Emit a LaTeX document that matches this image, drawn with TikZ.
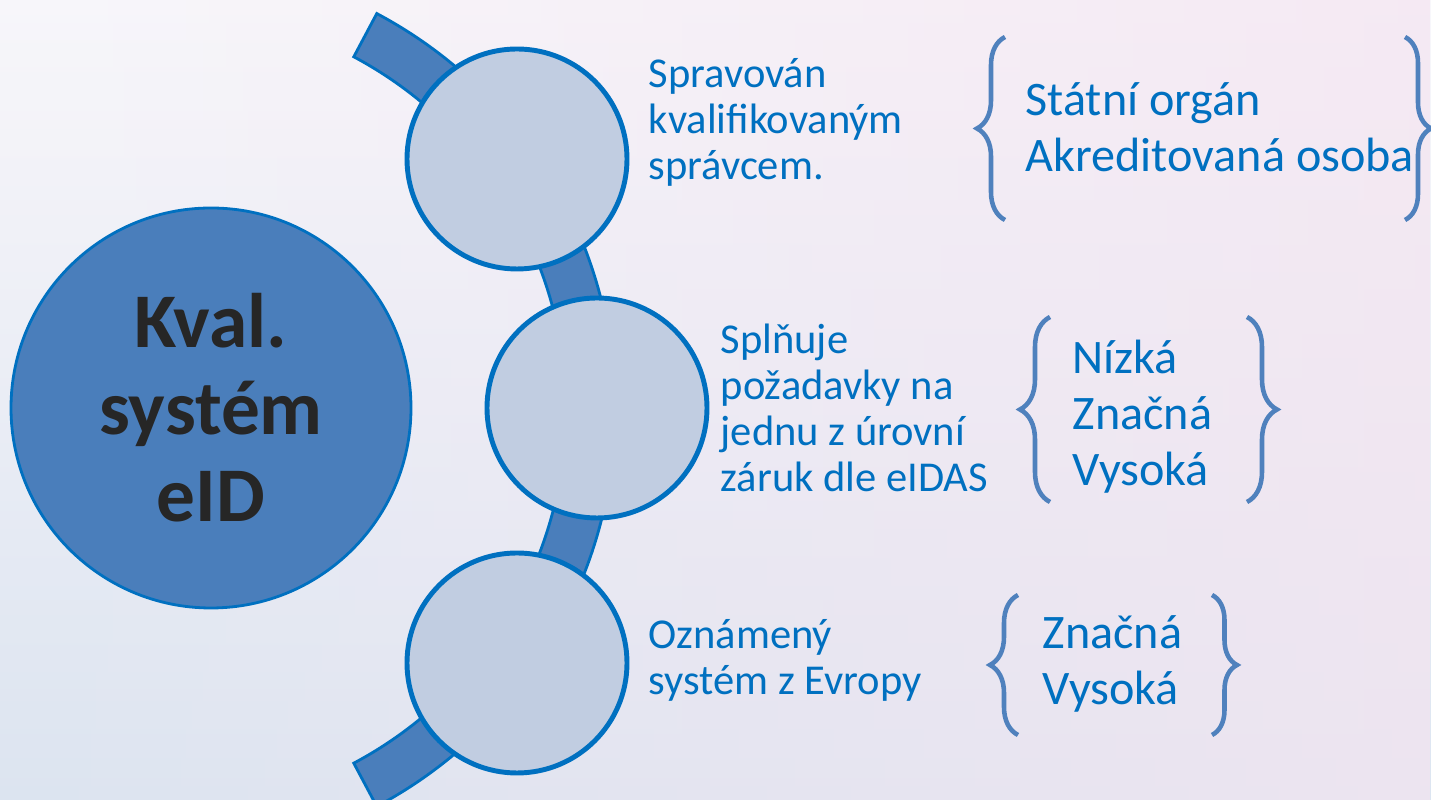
\documentclass[tikz,border=0pt]{standalone}
\usepackage{fontspec}
\setmainfont{Carlito}
\usetikzlibrary{positioning, decorations.pathreplacing, fadings}
\definecolor{txtblue}{HTML}{0070C0}
\definecolor{fillblue}{HTML}{4A7EBB}
\definecolor{paleblue}{HTML}{C1CDE1}
\definecolor{bracecol}{HTML}{4F81BD}
\definecolor{darktxt}{HTML}{262626}
\definecolor{bgtop}{HTML}{F8F7FB}
\definecolor{bgbot}{HTML}{DCE5F1}
\definecolor{bgpink}{HTML}{F4E4F0}
\tikzset{
  bubble/.style={circle, draw=txtblue, line width=1.4pt, fill=paleblue, minimum size=2.2cm, inner sep=0pt},
  hub/.style={circle, draw=txtblue, line width=0.8pt, fill=fillblue, minimum size=4cm, inner sep=0pt, text=darktxt, align=center, font=\fontsize{22}{24.8}\selectfont\bfseries},
  say/.style={anchor=west, inner sep=0pt, text=txtblue, align=left, font=\fontsize{12.1}{13.1}\selectfont},
  level/.style={anchor=west, inner sep=0pt, text=txtblue, align=left, font=\fontsize{13.7}{15.9}\selectfont},
  curly/.style={decorate, decoration={brace, amplitude=#1}, draw=bracecol, line width=1.3pt}
}
\begin{document}
\begin{tikzpicture}
% background
\shade [top color=bgtop, bottom color=bgbot] (0,0) rectangle (14.31,8);
\fill [bgpink, path fading=west, opacity=0.7] (0,0) rectangle (14.31,8);
\useasboundingbox (0,0) rectangle (14.31,8);
% band
\draw [fill=fillblue, draw=txtblue, line width=0.8pt] (1.66,3.90) ++(-62:4.0) arc [start angle=-62, end angle=62, radius=4.0] -- ++(62:0.49) arc [start angle=62, end angle=-62, radius=4.49] -- cycle;
% circles
\node [hub] (hub) at (2.11,3.92) {Kval.\\systém\\eID};
\node [bubble] (b1) at (5.17,6.41) {};
\node [bubble] (b2) at (5.97,3.92) {};
\node [bubble] (b3) at (5.17,1.37) {};
% texts
\node [say] (say1) at (6.48,6.78) {Spravován\\kvalifikovaným\\správcem.};
\node [say] (say2) at (7.20,3.92) {Splňuje\\požadavky na\\jednu z úrovní\\záruk dle eIDAS};
\node [say] (say3) at (6.48,1.40) {Oznámený\\systém z Evropy};
\node [level] (lvl1) at (10.25,6.73) {Státní orgán\\Akreditovaná osoba};
\node [level] (lvl2) at (10.72,3.83) {Nízká\\Značná\\Vysoká};
\node [level] (lvl3) at (10.42,1.36) {Značná\\Vysoká};
% braces
\draw [curly=0.28cm] (10.05,5.80) -- (10.05,7.63);
\draw [curly=0.26cm] (14.05,7.63) -- (14.05,5.80);
\draw [curly=0.30cm] (10.50,2.98) -- (10.50,4.83);
\draw [curly=0.30cm] (12.47,4.83) -- (12.47,2.98);
\draw [curly=0.28cm] (10.18,0.65) -- (10.18,2.05);
\draw [curly=0.25cm] (12.12,2.05) -- (12.12,0.65);
\end{tikzpicture}
\end{document}
